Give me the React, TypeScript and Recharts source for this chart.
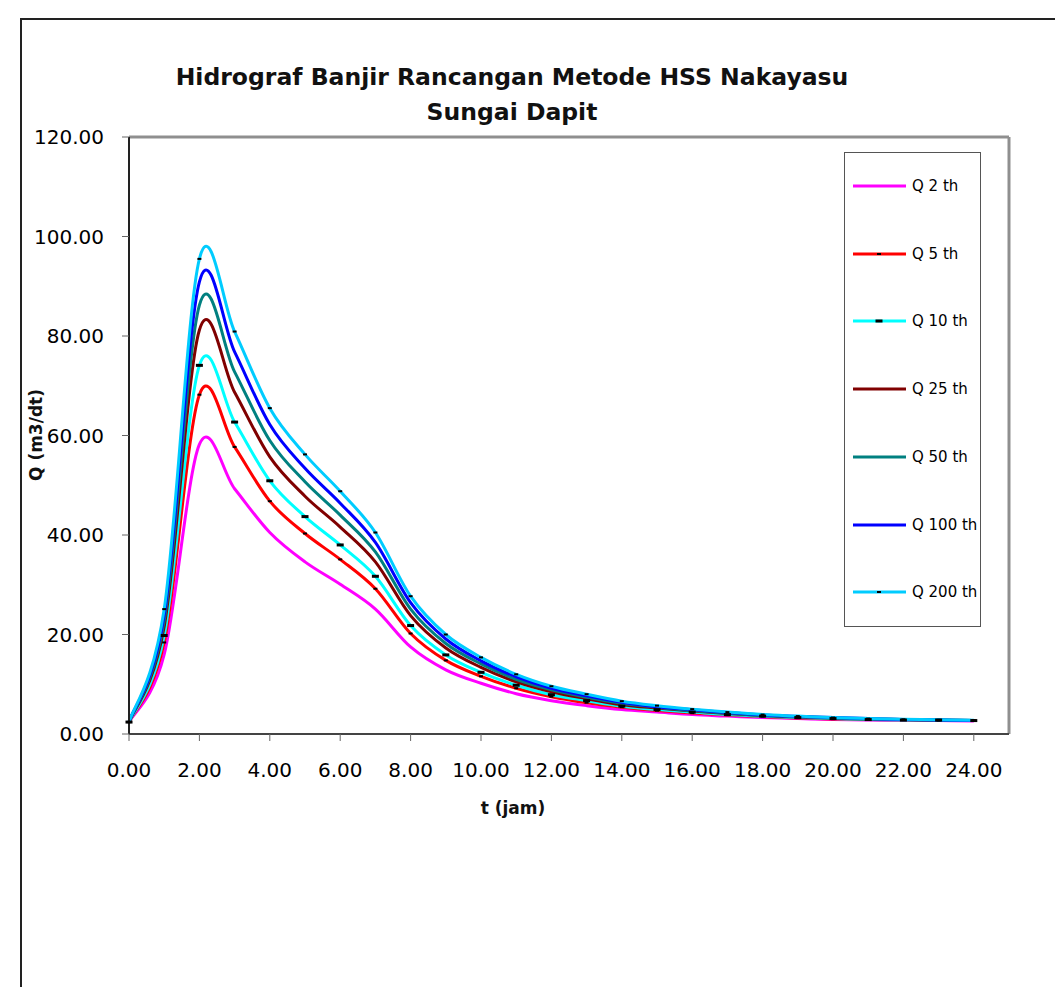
import React from "react";
import { LineChart, Line, XAxis, YAxis, ReferenceLine, Legend } from "recharts";

// jam ke-
const hours = [0, 1, 2, 3, 4, 5, 6, 7, 8, 9, 10, 11, 12, 13, 14, 15, 16, 17, 18, 19, 20, 21, 22, 23, 24];

// debit banjir rancangan (m3/dt) per kala ulang
const q2 = [2.4, 16.0, 58.2, 49.3, 40.5, 34.6, 30.1, 25.1, 17.5, 12.9, 10.2, 8.1, 6.7, 5.7, 4.9, 4.4, 3.9, 3.6, 3.3, 3.1, 2.9, 2.8, 2.7, 2.7, 2.6];
const q5 = [2.4, 18.4, 68.2, 57.7, 46.8, 40.3, 35.1, 29.2, 20.2, 14.8, 11.6, 9.2, 7.5, 6.3, 5.4, 4.7, 4.2, 3.8, 3.5, 3.2, 3.0, 2.9, 2.8, 2.7, 2.7];
const q10 = [2.4, 19.8, 74.1, 62.7, 50.9, 43.7, 38.0, 31.7, 21.8, 15.9, 12.4, 9.8, 7.9, 6.7, 5.6, 4.9, 4.4, 3.9, 3.6, 3.3, 3.1, 2.9, 2.8, 2.8, 2.7];
const q25 = [2.4, 21.6, 81.2, 68.7, 55.7, 47.8, 41.6, 34.6, 23.8, 17.3, 13.4, 10.5, 8.5, 7.1, 5.9, 5.2, 4.6, 4.1, 3.7, 3.4, 3.2, 3.0, 2.9, 2.8, 2.7];
const q50 = [2.4, 22.8, 86.2, 72.8, 59.0, 50.7, 44.0, 36.6, 25.1, 18.2, 14.1, 11.0, 8.9, 7.4, 6.2, 5.4, 4.7, 4.2, 3.7, 3.5, 3.2, 3.0, 2.9, 2.8, 2.7];
const q100 = [2.4, 23.9, 90.9, 76.8, 62.2, 53.4, 46.4, 38.5, 26.4, 19.1, 14.7, 11.5, 9.2, 7.7, 6.4, 5.5, 4.9, 4.3, 3.8, 3.5, 3.3, 3.1, 2.9, 2.8, 2.7];
const q200 = [2.4, 25.1, 95.5, 80.9, 65.5, 56.2, 48.8, 40.5, 27.7, 20.0, 15.4, 12.0, 9.6, 8.0, 6.6, 5.7, 5.0, 4.4, 3.9, 3.6, 3.3, 3.1, 2.95, 2.85, 2.75];

const xTicks = [0, 2, 4, 6, 8, 10, 12, 14, 16, 18, 20, 22, 24];
const yTicks = [0, 20, 40, 60, 80, 100, 120];

type Marker = { w: number; h: number } | null;

const series: { key: string; label: string; color: string; values: number[]; marker: Marker }[] = [
  { key: "q2", label: "Q 2 th", color: "#FF00FF", values: q2, marker: null },
  { key: "q5", label: "Q 5 th", color: "#FF0000", values: q5, marker: { w: 4, h: 2 } },
  { key: "q10", label: "Q 10 th", color: "#00FFFF", values: q10, marker: { w: 7, h: 3 } },
  { key: "q25", label: "Q 25 th", color: "#800000", values: q25, marker: null },
  { key: "q50", label: "Q 50 th", color: "#008080", values: q50, marker: null },
  { key: "q100", label: "Q 100 th", color: "#0000FF", values: q100, marker: null },
  { key: "q200", label: "Q 200 th", color: "#00CCFF", values: q200, marker: { w: 4, h: 2 } },
];

const data = hours.map((t, i) => {
  const row: Record<string, number> = { t };
  series.forEach((s) => (row[s.key] = s.values[i]));
  return row;
});

const FONT = "'DejaVu Sans', Verdana, sans-serif";

// smoothed line like a spreadsheet "smoothed line": Catmull-Rom through every point
const smoothCurve = (context: any) => {
  let pts: number[][] = [];
  return {
    areaStart() {},
    areaEnd() {},
    lineStart() {
      pts = [];
    },
    point(x: number, y: number) {
      pts.push([+x, +y]);
    },
    lineEnd() {
      if (!pts.length) return;
      context.moveTo(pts[0][0], pts[0][1]);
      for (let i = 0; i < pts.length - 1; i++) {
        const p0 = pts[i - 1] ?? pts[i];
        const p1 = pts[i];
        const p2 = pts[i + 1];
        const p3 = pts[i + 2] ?? p2;
        context.bezierCurveTo(
          p1[0] + (p2[0] - p0[0]) / 6,
          p1[1] + (p2[1] - p0[1]) / 6,
          p2[0] - (p3[0] - p1[0]) / 6,
          p2[1] - (p3[1] - p1[1]) / 6,
          p2[0],
          p2[1]
        );
      }
    },
  };
};

const dashDot = (m: { w: number; h: number }) => (props: any) => {
  const { cx, cy, index } = props;
  if (cx == null || cy == null) return <g key={`e-${index}`} />;
  return <rect key={`m-${index}`} x={cx - m.w / 2} y={cy - m.h / 2} width={m.w} height={m.h} fill="#000" />;
};

function LegendBox() {
  return (
    <div
      style={{
        width: 137,
        height: 475,
        boxSizing: "border-box",
        border: "1px solid #555",
        background: "#fff",
        position: "relative",
        fontFamily: FONT,
        fontSize: 15,
      }}
    >
      {series.map((s, i) => (
        <div key={s.key} style={{ position: "absolute", left: 8, top: 33 + i * 67.7 - 10, height: 20, display: "flex", alignItems: "center" }}>
          <svg width={53} height={8} style={{ display: "block" }}>
            <line x1={0} y1={4} x2={53} y2={4} stroke={s.color} strokeWidth={3} />
            {s.marker && <rect x={26 - s.marker.w / 2} y={4 - s.marker.h / 2} width={s.marker.w} height={s.marker.h} fill="#000" />}
          </svg>
          <span style={{ marginLeft: 6, color: "#000", whiteSpace: "nowrap" }}>{s.label}</span>
        </div>
      ))}
    </div>
  );
}

export default function App() {
  return (
    <div style={{ position: "relative", width: 1055, height: 979, overflow: "hidden", background: "#fff" }}>
      <div
        style={{
          position: "absolute",
          left: 12,
          top: 10,
          width: 1200,
          height: 1200,
          borderLeft: "2px solid #222",
          borderTop: "2px solid #222",
        }}
      />
      <div
        style={{
          position: "absolute",
          left: 0,
          top: 52,
          width: 1008,
          textAlign: "center",
          fontFamily: FONT,
          fontWeight: "bold",
          fontSize: 23.5,
          lineHeight: "35px",
          color: "#111",
        }}
      >
        Hidrograf Banjir Rancangan Metode HSS Nakayasu
        <br />
        Sungai Dapit
      </div>
      <div
        style={{
          position: "absolute",
          left: 28,
          top: 427,
          transform: "translate(-50%, -50%) rotate(-90deg)",
          fontFamily: FONT,
          fontWeight: "bold",
          fontSize: 17,
          whiteSpace: "nowrap",
          color: "#111",
        }}
      >
        Q (m3/dt)
      </div>
      <div
        style={{
          position: "absolute",
          left: 505,
          top: 800,
          transform: "translate(-50%, -50%)",
          fontFamily: FONT,
          fontWeight: "bold",
          fontSize: 17,
          whiteSpace: "nowrap",
          color: "#111",
        }}
      >
        t (jam)
      </div>
      <div style={{ position: "absolute", left: 0, top: 0 }}>
        <LineChart width={1055} height={979} data={data} margin={{ top: 129, right: 54, left: 21, bottom: 193 }}>
          <XAxis
            type="number"
            dataKey="t"
            domain={[0, 25]}
            ticks={xTicks}
            interval={0}
            height={60}
            tickSize={7}
            tickMargin={22}
            tickFormatter={(v: number) => v.toFixed(2)}
            tick={{ fill: "#000", fontSize: 20, fontFamily: FONT }}
            axisLine={{ stroke: "#444", strokeWidth: 2 }}
            tickLine={{ stroke: "#666" }}
          />
          <YAxis
            type="number"
            domain={[0, 120]}
            ticks={yTicks}
            interval={0}
            width={100}
            tickSize={7}
            tickMargin={18}
            tickFormatter={(v: number) => v.toFixed(2)}
            tick={{ fill: "#000", fontSize: 20, fontFamily: FONT }}
            axisLine={{ stroke: "#222", strokeWidth: 2 }}
            tickLine={{ stroke: "#666" }}
          />
          <ReferenceLine y={120} stroke="#8f8f8f" strokeWidth={3} />
          <ReferenceLine x={25} stroke="#8f8f8f" strokeWidth={3} />
          {series.map((s) => (
            <Line
              key={s.key}
              dataKey={s.key}
              name={s.label}
              type={smoothCurve as any}
              stroke={s.color}
              strokeWidth={3}
              dot={s.marker ? dashDot(s.marker) : false}
              activeDot={false}
              isAnimationActive={false}
            />
          ))}
          <Legend
            layout="vertical"
            align="center"
            verticalAlign="middle"
            wrapperStyle={{ left: 836, top: 144, width: 137, height: 475 }}
            content={() => <LegendBox />}
          />
        </LineChart>
      </div>
    </div>
  );
}
